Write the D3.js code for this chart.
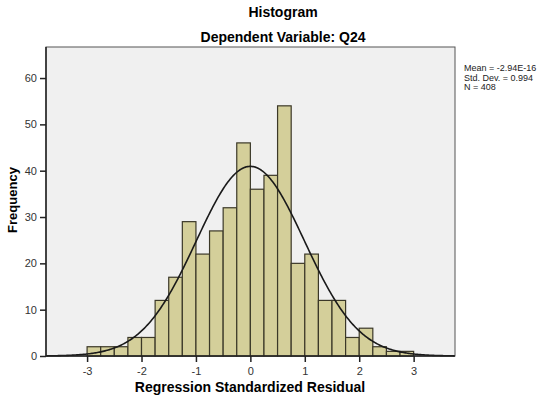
<!DOCTYPE html>
<html>
<head>
<meta charset="utf-8">
<script src="https://cdn.jsdelivr.net/npm/d3@7"></script>
<style>
  body { margin: 0; background: #fff; }
  text { font-family: "Liberation Sans", Arial, sans-serif; }
</style>
</head>
<body>
<div id="chart"></div>
<script>
// bin edges (left side of each bar), width 0.25
var binStarts = [-3, -2.75, -2.5, -2.25, -2, -1.75, -1.5, -1.25, -1, -0.75, -0.5, -0.25,
                 0, 0.25, 0.5, 0.75, 1, 1.25, 1.5, 1.75, 2, 2.25, 2.5, 2.75];
var counts = [2, 2, 2, 4, 4, 12, 17, 29, 22, 27, 32, 46,
              36, 39, 54, 20, 22, 12, 12, 4, 6, 2, 1, 1];
var binWidth = 0.25;
var xTicks = [-3, -2, -1, 0, 1, 2, 3];
var yTicks = [0, 10, 20, 30, 40, 50, 60];
var statLines = ["Mean = -2.94E-16", "Std. Dev. = 0.994", "N = 408"];
var mean = -2.94e-16, sd = 0.994, n = 408;

var width = 550, height = 399;
// plot frame
var pLeft = 46, pRight = 455, pTop = 47, pBottom = 356;

var svg = d3.select("#chart").append("svg")
  .attr("width", width)
  .attr("height", height);

var x = d3.scaleLinear().domain([-3.755, 3.76]).range([pLeft, pRight]);
var y = d3.scaleLinear().domain([0, 66.7]).range([pBottom, pTop]);

// plot background + frame
svg.append("rect")
  .attr("x", pLeft).attr("y", pTop)
  .attr("width", pRight - pLeft).attr("height", pBottom - pTop)
  .attr("fill", "#f0f0f0")
  .attr("stroke", "#555").attr("stroke-width", 1);

// bars
svg.selectAll("rect.bar").data(counts).enter()
  .append("rect")
  .attr("class", "bar")
  .attr("x", function(d, i) { return x(binStarts[i]); })
  .attr("y", function(d) { return y(d); })
  .attr("width", function(d, i) { return x(binStarts[i] + binWidth) - x(binStarts[i]); })
  .attr("height", function(d) { return pBottom - y(d); })
  .attr("fill", "#d4cf9a")
  .attr("stroke", "#3b3828")
  .attr("stroke-width", 1.2);

// normal curve
var curveX = d3.range(-3.75, 3.76, 0.02);
var line = d3.line()
  .x(function(d) { return x(d); })
  .y(function(d) {
    var z = (d - mean) / sd;
    return y(n * binWidth * Math.exp(-0.5 * z * z) / (sd * Math.sqrt(2 * Math.PI)));
  });

svg.append("path")
  .datum(curveX)
  .attr("d", line)
  .attr("fill", "none")
  .attr("stroke", "#1a1a1a")
  .attr("stroke-width", 1.6);

// axes (plain hyphen minus like the original)
var fmt = function(d) { return String(d); };
var xAxis = d3.axisBottom(x).tickValues(xTicks).tickSize(6).tickFormat(fmt);
var yAxis = d3.axisLeft(y).tickValues(yTicks).tickSize(6).tickFormat(fmt);

var gx = svg.append("g")
  .attr("transform", "translate(0," + pBottom + ")")
  .call(xAxis);
gx.select(".domain").remove();
gx.selectAll("line").attr("stroke", "#222").attr("stroke-width", 1.5);
gx.selectAll("text").attr("font-size", "11px").attr("fill", "#333")
  .attr("font-family", "Liberation Sans, Arial, sans-serif").attr("dy", "0.9em");

var gy = svg.append("g")
  .attr("transform", "translate(" + pLeft + ",0)")
  .call(yAxis);
gy.select(".domain").remove();
gy.selectAll("line").attr("stroke", "#222").attr("stroke-width", 1.5);
gy.selectAll("text").attr("font-size", "11px").attr("fill", "#333")
  .attr("font-family", "Liberation Sans, Arial, sans-serif");

// axis lines (left + bottom darker)
svg.append("line").attr("x1", pLeft).attr("x2", pLeft).attr("y1", pTop).attr("y2", pBottom)
  .attr("stroke", "#222").attr("stroke-width", 1.5);
svg.append("line").attr("x1", pLeft).attr("x2", pRight).attr("y1", pBottom).attr("y2", pBottom)
  .attr("stroke", "#222").attr("stroke-width", 1.5);

// titles
svg.append("text")
  .attr("x", 283).attr("y", 17)
  .attr("text-anchor", "middle")
  .attr("font-size", "14px").attr("font-weight", "bold")
  .text("Histogram");

svg.append("text")
  .attr("x", 283).attr("y", 42)
  .attr("text-anchor", "middle")
  .attr("font-size", "14px").attr("font-weight", "bold")
  .text("Dependent Variable: Q24");

svg.append("text")
  .attr("x", 250).attr("y", 392)
  .attr("text-anchor", "middle")
  .attr("font-size", "14px").attr("font-weight", "bold")
  .text("Regression Standardized Residual");

svg.append("text")
  .attr("transform", "translate(17,200) rotate(-90)")
  .attr("text-anchor", "middle")
  .attr("font-size", "13px").attr("font-weight", "bold")
  .text("Frequency");

// stats text
svg.selectAll("text.stat").data(statLines).enter()
  .append("text")
  .attr("class", "stat")
  .attr("x", 464)
  .attr("y", function(d, i) { return 71 + i * 9.5; })
  .attr("font-size", "9px")
  .attr("fill", "#222")
  .text(function(d) { return d; });
</script>
</body>
</html>
